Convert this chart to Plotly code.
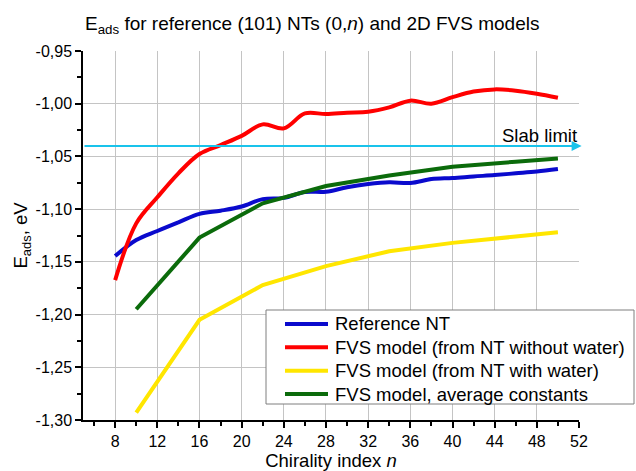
import plotly.graph_objects as go

# Chirality indices of the (0,n) nanotubes
N_REF = [8, 10, 12, 14, 16, 18, 20, 22, 24, 26, 28, 30, 32, 34, 36, 38, 40, 42, 44, 46, 48, 50]
N_FVS = [10, 16, 22, 28, 34, 40, 46, 50]

# Adsorption energies, eV
E_REFERENCE_NT = [-1.1445, -1.1293, -1.1207, -1.1125, -1.1045, -1.1015, -1.0975, -1.0905,
                  -1.0893, -1.0838, -1.0835, -1.0792, -1.0762, -1.0745, -1.0752, -1.0715,
                  -1.0705, -1.0690, -1.0677, -1.0660, -1.0643, -1.0620]
E_FVS_NO_WATER = [-1.1673, -1.1135, -1.0888, -1.0660, -1.0477, -1.0392, -1.0305, -1.0196,
                  -1.0234, -1.0092, -1.0098, -1.0085, -1.0076, -1.0035, -0.9971, -1.0000,
                  -0.9938, -0.9885, -0.9864, -0.9876, -0.9905, -0.9943]
E_FVS_WATER = [-1.293, -1.205, -1.172, -1.154, -1.140, -1.132, -1.126, -1.122]
E_FVS_AVERAGE = [-1.195, -1.127, -1.0945, -1.078, -1.068, -1.0597, -1.055, -1.052]

SLAB_LIMIT = -1.04

X_RANGE = [4.95, 52]
Y_RANGE = [-1.30, -0.95]
X_TICKS = [8, 12, 16, 20, 24, 28, 32, 36, 40, 44, 48, 52]
X_TICK_LABELS = [str(v) for v in X_TICKS]
Y_TICKS = [-1.30, -1.25, -1.20, -1.15, -1.10, -1.05, -1.00, -0.95]
Y_TICK_LABELS = ["-1,30", "-1,25", "-1,20", "-1,15", "-1,10", "-1,05", "-1,00", "-0,95"]
GRID_X = [8, 12, 16, 20, 24, 28, 32, 36, 40, 44, 48]
GRID_Y = [-1.25, -1.20, -1.15, -1.10, -1.05, -1.00]

FONT = "Liberation Sans, Arial, sans-serif"
LW = 4

W, H = 636, 471
M_L, M_R, M_T, M_B = 83, 57, 51, 51
PLOT_W = W - M_L - M_R
PLOT_H = H - M_T - M_B


def px_x(p):
    """pixel column -> paper x"""
    return (p - M_L) / PLOT_W


def px_y(p):
    """pixel row -> paper y"""
    return (H - M_B - p) / PLOT_H


fig = go.Figure()

series = [
    ("Reference NT", N_REF, E_REFERENCE_NT, "#0A0ACD", "spline"),
    ("FVS model (from NT without water)", N_REF, E_FVS_NO_WATER, "#FF0000", "spline"),
    ("FVS model (from NT with water)", N_FVS, E_FVS_WATER, "#FFE600", "linear"),
    ("FVS model, average constants", N_FVS, E_FVS_AVERAGE, "#0B6B0B", "linear"),
]
for name, xs, ys, color, shape in series:
    fig.add_trace(go.Scatter(
        x=xs, y=ys, name=name, mode="lines", showlegend=False,
        line=dict(color=color, width=LW, shape=shape, smoothing=1.0),
        cliponaxis=False,
    ))

# empty trace that carries the overlay axes used for the grid
fig.add_trace(go.Scatter(x=[], y=[], xaxis="x2", yaxis="y2", showlegend=False, hoverinfo="skip"))

axis_common = dict(
    showline=True, linecolor="black", linewidth=1.5,
    ticks="outside", tickcolor="black", tickwidth=1.5, ticklen=6,
    showgrid=False, zeroline=False,
    tickfont=dict(family=FONT, size=16, color="black"),
)

fig.update_layout(
    width=W, height=H,
    margin=dict(l=M_L, r=M_R, t=M_T, b=M_B, autoexpand=False),
    paper_bgcolor="white", plot_bgcolor="white",
    font=dict(family=FONT, color="black"),
    showlegend=False,
    xaxis=dict(
        range=X_RANGE, tickmode="array", tickvals=X_TICKS, ticktext=X_TICK_LABELS,
        minor=dict(tick0=0, dtick=2, ticks="outside", ticklen=4, tickcolor="black", tickwidth=1.5),
        title=dict(text="Chirality index <i>n</i>", font=dict(family=FONT, size=18.5), standoff=5),
        **axis_common,
    ),
    yaxis=dict(
        range=Y_RANGE, tickmode="array", tickvals=Y_TICKS, ticktext=Y_TICK_LABELS,
        minor=dict(tick0=0, dtick=0.025, ticks="outside", ticklen=4, tickcolor="black", tickwidth=1.5),
        title=dict(text="E<sub>ads</sub>, eV", font=dict(family=FONT, size=18.5), standoff=3),
        **axis_common,
    ),
    xaxis2=dict(
        overlaying="x", anchor="y2", range=X_RANGE, tickmode="array", tickvals=GRID_X,
        showgrid=True, gridcolor="#C4C4C4", gridwidth=1, showticklabels=False,
        ticks="", showline=False, zeroline=False,
    ),
    yaxis2=dict(
        overlaying="y", anchor="x2", range=Y_RANGE, tickmode="array", tickvals=GRID_Y,
        showgrid=True, gridcolor="#C4C4C4", gridwidth=1, showticklabels=False,
        ticks="", showline=False, zeroline=False,
    ),
)

# Title
fig.add_annotation(
    text="E<sub>ads</sub> for reference (101) NTs (0,<i>n</i>) and 2D FVS models",
    xref="paper", yref="paper", x=0.0, y=1.0, xanchor="left", yanchor="bottom",
    yshift=12, showarrow=False, font=dict(family=FONT, size=19, color="black"),
)

# Slab limit arrow across the plot
fig.add_annotation(
    x=52.25, y=SLAB_LIMIT, ax=X_RANGE[0], ay=SLAB_LIMIT,
    xref="x", yref="y", axref="x", ayref="y",
    text="", showarrow=True, arrowhead=2, arrowsize=1.0, arrowwidth=2,
    arrowcolor="#19C3EB", standoff=0,
)
fig.add_annotation(
    text="Slab limit", x=52, y=SLAB_LIMIT, xref="x", yref="y",
    xanchor="right", yanchor="bottom", yshift=-2, showarrow=False,
    font=dict(family=FONT, size=18.5, color="black"),
)

# Legend box with a line sample and label for each series
LEG_LEFT, LEG_RIGHT, LEG_TOP, LEG_BOTTOM = 266, 634, 310, 404
ROW_Y = [324, 347.3, 370.7, 394]
fig.add_shape(
    type="rect", xref="paper", yref="paper",
    x0=px_x(LEG_LEFT), x1=px_x(LEG_RIGHT), y0=px_y(LEG_BOTTOM), y1=px_y(LEG_TOP),
    line=dict(color="#7F7F7F", width=1), fillcolor="white", layer="above",
)
for (name, _, _, color, _), ry in zip(series, ROW_Y):
    fig.add_shape(
        type="line", xref="paper", yref="paper",
        x0=px_x(285), x1=px_x(328), y0=px_y(ry), y1=px_y(ry),
        line=dict(color=color, width=LW), layer="above",
    )
    fig.add_annotation(
        text=name, xref="paper", yref="paper", x=px_x(333), y=px_y(ry),
        xanchor="left", yanchor="middle", showarrow=False,
        font=dict(family=FONT, size=18.5, color="black"),
    )

fig.write_html("out.html")
